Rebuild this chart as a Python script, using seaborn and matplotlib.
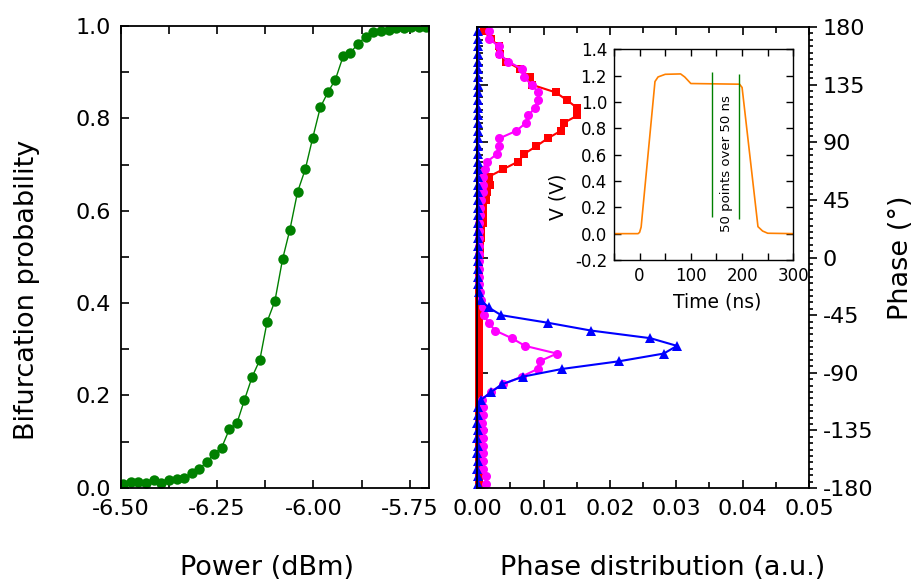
import numpy as np
import pandas as pd
import matplotlib
matplotlib.use("Agg")
import matplotlib.pyplot as plt
import seaborn as sns
from matplotlib.ticker import MultipleLocator, FormatStrFormatter

sns.set_style("ticks", {'text.color': 'black', 'axes.labelcolor': 'black',
                        'xtick.color': 'black', 'ytick.color': 'black',
                        'axes.edgecolor': 'black'})
plt.rcParams['font.family'] = ['DejaVu Sans']
plt.rcParams['axes.unicode_minus'] = False

# left panel: bifurcation probability vs drive power
power = [-6.493, -6.473, -6.454, -6.434, -6.414, -6.395, -6.375, -6.355, -6.336, -6.316,
         -6.297, -6.277, -6.257, -6.238, -6.218, -6.198, -6.179, -6.159, -6.139, -6.120,
         -6.100, -6.080, -6.061, -6.041, -6.021, -6.002, -5.982, -5.962, -5.943, -5.923,
         -5.904, -5.884, -5.864, -5.845, -5.825, -5.805, -5.786, -5.766, -5.746, -5.727,
         -5.707]
prob = [0.009, 0.013, 0.013, 0.011, 0.017, 0.011, 0.017, 0.019, 0.020, 0.031,
        0.040, 0.056, 0.074, 0.087, 0.127, 0.141, 0.190, 0.240, 0.277, 0.360,
        0.404, 0.495, 0.559, 0.641, 0.690, 0.757, 0.824, 0.857, 0.884, 0.934,
        0.942, 0.962, 0.977, 0.988, 0.990, 0.991, 0.995, 0.996, 0.997, 0.997,
        0.998]

# right panel: phase histograms (6 degree bins)
phase = [177, 171, 165, 159, 153, 147, 141, 135, 129, 123,
         117, 111, 105, 99, 93, 87, 81, 75, 69, 63,
         57, 51, 45, 39, 33, 27, 21, 15, 9, 3,
         -3, -9, -15, -21, -27, -33, -39, -45, -51, -57,
         -63, -69, -75, -81, -87, -93, -99, -105, -111, -117,
         -123, -129, -135, -141, -147, -153, -159, -165, -171, -177]
dist_red = [0.0010, 0.0020, 0.0033, 0.0034, 0.0044, 0.0065, 0.0079, 0.0082, 0.0118, 0.0135,
            0.0150, 0.0151, 0.0130, 0.0126, 0.0106, 0.0089, 0.0071, 0.0062, 0.0039, 0.0017,
            0.0019, 0.0014, 0.0013, 0.0008, 0.0008, 0.0008, 0.0006, 0.0005, 0.0004, 0.0004,
            0.0003, 0.0003, 0.0003, 0.0002, 0.0002, 0.0002, 0.0002, 0.0002, 0.0002, 0.0002,
            0.0002, 0.0002, 0.0002, 0.0002, 0.0002, 0.0002, 0.0002, 0.0002, 0.0002, 0.0002,
            0.0002, 0.0002, 0.0002, 0.0002, 0.0002, 0.0002, 0.0002, 0.0002, 0.0003, 0.0003]
dist_magenta = [0.0018, 0.0018, 0.0032, 0.0033, 0.0047, 0.0068, 0.0070, 0.0082, 0.0092, 0.0091,
                0.0087, 0.0077, 0.0073, 0.0059, 0.0033, 0.0032, 0.0030, 0.0015, 0.0012, 0.0009,
                0.0008, 0.0008, 0.0005, 0.0004, 0.0004, 0.0003, 0.0003, 0.0003, 0.0003, 0.0002,
                0.0002, 0.0003, 0.0003, 0.0003, 0.0004, 0.0005, 0.0008, 0.0010, 0.0017, 0.0027,
                0.0052, 0.0072, 0.0120, 0.0094, 0.0091, 0.0067, 0.0039, 0.0020, 0.0007, 0.0009,
                0.0008, 0.0007, 0.0008, 0.0009, 0.0009, 0.0009, 0.0008, 0.0009, 0.0013, 0.0013]
dist_blue = [0.0001, 0.0001, 0.0001, 0.0001, 0.0001, 0.0001, 0.0001, 0.0001, 0.0001, 0.0001,
             0.0001, 0.0001, 0.0001, 0.0001, 0.0001, 0.0001, 0.0001, 0.0001, 0.0001, 0.0001,
             0.0001, 0.0001, 0.0001, 0.0001, 0.0001, 0.0001, 0.0001, 0.0001, 0.0001, 0.0001,
             0.0001, 0.0001, 0.0001, 0.0001, 0.0002, 0.0005, 0.0017, 0.0036, 0.0107, 0.0171,
             0.0261, 0.0301, 0.0281, 0.0214, 0.0128, 0.0069, 0.0037, 0.0021, 0.0006, 0.0001,
             0.0001, 0.0000, 0.0001, 0.0000, 0.0001, 0.0000, 0.0001, 0.0000, 0.0001, 0.0001]

# inset: readout pulse
pulse_t = [-50, -3, 0, 3, 30, 36, 50, 80, 88, 100, 195, 200, 205, 231, 240, 250, 300]
pulse_v = [0.0, 0.0, 0.01, 0.05, 1.155, 1.19, 1.21, 1.213, 1.19, 1.14, 1.135, 1.11, 0.94, 0.053, 0.02, 0.003, 0.0]
window_t = [142, 194]
window_lo = [0.13, 0.11]
window_hi = [1.225, 1.215]

df_prob = pd.DataFrame({'power': power, 'prob': prob})
df_phase = pd.DataFrame({'phase': phase, 'red': dist_red,
                         'magenta': dist_magenta, 'blue': dist_blue})
df_pulse = pd.DataFrame({'t': pulse_t, 'v': pulse_v})

fig = plt.figure(figsize=(9.23, 5.82), dpi=100)
ax1 = fig.add_axes([0.1308, 0.162, 0.334, 0.7933])
ax2 = fig.add_axes([0.5171, 0.1615, 0.3594, 0.792])
ax3 = fig.add_axes([0.6652, 0.5533, 0.1943, 0.362])

# ---- left panel
sns.lineplot(data=df_prob, x='power', y='prob', ax=ax1, color='#008000',
             lw=1.0, marker='o', markersize=7.5, markeredgewidth=0,
             estimator=None, sort=False)
ax1.set_xlim(-6.5, -5.7)
ax1.set_ylim(0, 1.0)
ax1.xaxis.set_major_locator(MultipleLocator(0.25))
ax1.xaxis.set_minor_locator(MultipleLocator(0.125))
ax1.yaxis.set_major_locator(MultipleLocator(0.2))
ax1.yaxis.set_minor_locator(MultipleLocator(0.1))
ax1.xaxis.set_major_formatter(FormatStrFormatter('%.2f'))
ax1.yaxis.set_major_formatter(FormatStrFormatter('%.1f'))
ax1.tick_params(which='both', direction='in', top=True, right=True,
                labelsize=16, width=1.2, length=6)
ax1.tick_params(axis='x', pad=8)
ax1.tick_params(axis='y', pad=7)
ax1.set_xlabel('Power (dBm)', fontsize=19.5)
ax1.set_ylabel('Bifurcation probability', fontsize=19.5)
ax1.xaxis.set_label_coords(0.475, -0.145)
ax1.yaxis.set_label_coords(-0.262, 0.428)

# ---- right panel
for col, color, mk, ms in [('red', '#ff0000', 's', 6),
                           ('magenta', '#ff00ff', 'o', 6.5),
                           ('blue', '#0000ff', '^', 6.5)]:
    sns.lineplot(data=df_phase, x=col, y='phase', ax=ax2, color=color,
                 lw=1.5, marker=mk, markersize=ms, markeredgewidth=0,
                 estimator=None, sort=False, clip_on=False)
ax2.set_xlim(0, 0.05)
ax2.set_ylim(-180, 180)
ax2.xaxis.set_major_locator(MultipleLocator(0.01))
ax2.xaxis.set_minor_locator(MultipleLocator(0.005))
ax2.xaxis.set_major_formatter(FormatStrFormatter('%.2f'))
ax2.yaxis.set_major_locator(MultipleLocator(45))
ax2.yaxis.set_minor_locator(MultipleLocator(5))
ax2.yaxis.tick_right()
ax2.yaxis.set_label_position('right')
ax2.tick_params(axis='x', which='both', direction='in', top=True,
                labelsize=16, width=1.2, pad=8)
ax2.tick_params(axis='x', which='major', length=6)
ax2.tick_params(axis='x', which='minor', length=4)
ax2.tick_params(axis='y', which='both', direction='out', right=True, left=False,
                labelsize=16, width=1.2)
ax2.tick_params(axis='y', which='major', length=6, pad=4)
ax2.tick_params(axis='y', which='minor', length=3)
sec = ax2.secondary_yaxis('left')
sec.yaxis.set_major_locator(MultipleLocator(45))
sec.yaxis.set_minor_locator(MultipleLocator(5))
sec.tick_params(which='both', direction='in', labelleft=False, width=1.2)
sec.tick_params(which='major', length=8)
sec.tick_params(which='minor', length=4)
ax2.set_xlabel('Phase distribution (a.u.)', fontsize=19.5)
ax2.set_ylabel('Phase (\u00b0)', fontsize=19.5)
ax2.xaxis.set_label_coords(0.56, -0.145)
ax2.yaxis.set_label_coords(1.238, 0.5)

# ---- inset
sns.lineplot(data=df_pulse, x='t', y='v', ax=ax3, color='#ff8000', lw=1.2,
             estimator=None, sort=False)
ax3.vlines(window_t, window_lo, window_hi, color='#008000', lw=1.0)
ax3.text(169, 0.53, '50 points over 50 ns', rotation=90, fontsize=9.5,
         ha='center', va='center')
ax3.set_xlim(-50, 300)
ax3.set_ylim(-0.2, 1.4)
ax3.xaxis.set_major_locator(MultipleLocator(100))
ax3.xaxis.set_minor_locator(MultipleLocator(50))
ax3.yaxis.set_major_locator(MultipleLocator(0.2))
ax3.yaxis.set_major_formatter(FormatStrFormatter('%.1f'))
ax3.tick_params(which='both', direction='in', top=True, right=True,
                labelsize=12, width=1.0, pad=5, length=5)
ax3.set_xlabel('Time (ns)', fontsize=13.5)
ax3.set_ylabel('V (V)', fontsize=13.5)
ax3.xaxis.set_label_coords(0.575, -0.155)
ax3.yaxis.set_label_coords(-0.26, 0.3)
for s in ax3.spines.values():
    s.set_linewidth(1.0)

for ax in (ax1, ax2):
    for s in ax.spines.values():
        s.set_linewidth(1.3)
        s.set_color('black')
sec.spines['left'].set_linewidth(1.3)

fig.savefig('out.png', dpi=100)
